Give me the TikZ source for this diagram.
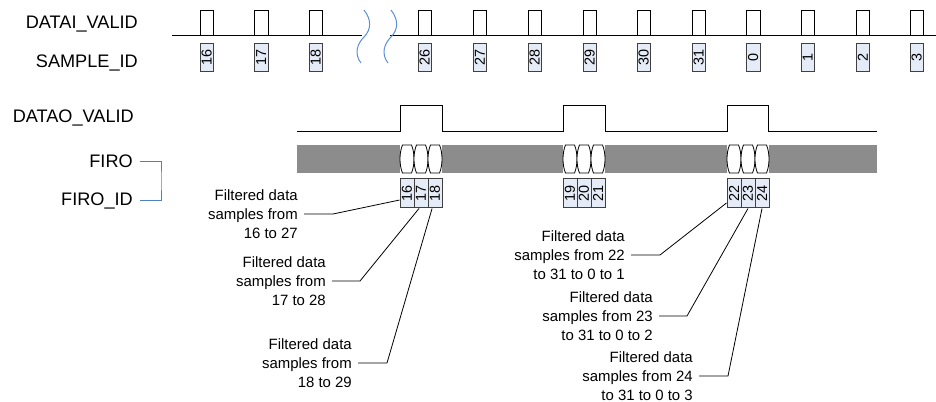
\documentclass[tikz,border=0pt]{standalone}
\usepackage{fontspec}
\setmainfont{Liberation Sans}
\usepackage{graphicx}
\definecolor{bargray}{HTML}{8C8C8C}
\definecolor{boxfill}{HTML}{E6ECF7}
\definecolor{boxline}{HTML}{404040}
\definecolor{wavecol}{HTML}{5B8FD6}
\definecolor{brkcol}{HTML}{4F81BD}
\begin{document}
\begin{tikzpicture}[x=0.75pt,y=-0.75pt,
  lbl/.style={font=\fontsize{13.6}{15}\selectfont, inner ysep=0pt, inner xsep=0pt, anchor=east},
  note/.style={font=\fontsize{11.2}{14.25}\selectfont, align=right, anchor=east, inner xsep=4.5pt, inner ysep=0pt},
  sbox/.style={draw=boxline, fill=boxfill, line width=0.75pt, minimum width=10.125pt, minimum height=21.4pt, inner sep=0pt, font=\fontsize{10.8}{10.8}\selectfont},
  idbox/.style={draw=boxline, fill=boxfill, line width=0.75pt, minimum width=10.5pt, minimum height=21.75pt, inner sep=0pt, font=\fontsize{10.8}{10.8}\selectfont},
  sig/.style={line width=0.75pt, black},
  leader/.style={line width=0.6pt, black},
  wavy/.style={draw=wavecol, line width=0.75pt},
  bracket/.style={draw=brkcol, line width=0.75pt},
  cell/.style={draw=black, fill=white, line width=0.6pt}]
\useasboundingbox (0,0) rectangle (936,402);

% labels
\node[lbl] (datai) at (138,24) {DATAI\_VALID};
\node[lbl] (sid) at (138,63) {SAMPLE\_ID};
\node[lbl] (datao) at (134,118) {DATAO\_VALID};
\node[lbl, inner xsep=5.25pt] (firo) at (140,161.5) {FIRO};
\node[lbl, inner xsep=5.25pt] (firoid) at (140,201) {FIRO\_ID};
\coordinate (bk) at (161,181);
\draw[bracket] (firo.east) -| (bk) |- (firoid.east);

% DATAI_VALID waveform
\draw[sig] (172,36) -- (362,36);
\draw[sig] (390,36) -- (936,36);
\foreach \x in {200,254.5,309,418,473,528,583,637,692,746.5,801,856,910}
  \draw[sig] (\x,36) -- (\x,11) -- ++(13.5,0) -- ++(0,25);

% break marks
\draw[wavy] (364,10) .. controls (372,20) and (371,30) .. (364,37) .. controls (357,44) and (354,54) .. (361,63);
\draw[wavy] (391,10) .. controls (399,20) and (398,30) .. (391,37) .. controls (384,44) and (381,54) .. (388,63);

% SAMPLE_ID boxes
\foreach \x/\t in {200/16,254.5/17,309/18,418/26,473/27,528/28,583/29,637/30,692/31,746.5/0,801/1,856/2,910/3}
  \node[sbox] (s\t) at (\x+6.75,57.5) {\rotatebox{90}{\t}};

% DATAO_VALID waveform
\draw[sig] (297,132) -- (400,132) -- (400,106) -- (442,106) -- (442,132)
  -- (563,132) -- (563,106) -- (605,106) -- (605,132)
  -- (727,132) -- (727,106) -- (768,106) -- (768,132) -- (877,132);

% FIRO bus
\fill[bargray] (297,145) rectangle (400,173);
\fill[bargray] (442,145) rectangle (563,173);
\fill[bargray] (605,145) rectangle (727,173);
\fill[bargray] (769,145) rectangle (877,173);
\foreach \g in {400,563,727}
  \foreach \k in {0,1,2} {
    \pgfmathsetmacro\a{\g+14*\k}
    \pgfmathsetmacro\b{\a+14}
    \draw[cell] (\a+2.5,145) -- (\b-2.5,145) .. controls (\b-0.8,149) and (\b,154) .. (\b,159)
      .. controls (\b,164) and (\b-0.8,169) .. (\b-2.5,173) -- (\a+2.5,173)
      .. controls (\a+0.8,169) and (\a,164) .. (\a,159)
      .. controls (\a,154) and (\a+0.8,149) .. (\a+2.5,145) -- cycle;
  }

% FIRO_ID boxes
\foreach \g/\p/\q/\r in {400/16/17/18,563/19/20/21,727/22/23/24} {
  \node[idbox] (b\p) at (\g+7,193.5) {\rotatebox{90}{\p}};
  \node[idbox] (b\q) at (\g+21,193.5) {\rotatebox{90}{\q}};
  \node[idbox] (b\r) at (\g+35,193.5) {\rotatebox{90}{\r}};
}

% notes
\node[note] (tA) at (304,214) {Filtered data\\samples from\\16 to 27};
\node[note] (tB) at (332,281) {Filtered data\\samples from\\17 to 28};
\node[note] (tC) at (358,363) {Filtered data\\samples from\\18 to 29};
\node[note] (tD) at (631,255) {Filtered data\\samples from 22\\to 31 to 0 to 1};
\node[note] (tE) at (659,316) {Filtered data\\samples from 23\\to 31 to 0 to 2};
\node[note] (tF) at (699,376) {Filtered data\\samples from 24\\to 31 to 0 to 3};

\coordinate (eA) at (333,214);
\coordinate (eB) at (360,281);
\coordinate (eC) at (387,363);
\coordinate (eD) at (660,255);
\coordinate (eE) at (687,316);
\coordinate (eF) at (728,376);

\draw[leader] (tA.east) -- (eA) -- ([yshift=-4.9pt]b16.west);
\draw[leader] (tB.east) -- (eB) -- ([xshift=-1.5pt]b17.south);
\draw[leader] (tC.east) -- (eC) -- ([xshift=-2.2pt]b18.south);
\draw[leader] (tD.east) -- (eD) -- ([yshift=-7.1pt]b22.west);
\draw[leader] (tE.east) -- (eE) -- (b23.south);
\draw[leader] (tF.east) -- (eF) -- (b24.south);
\end{tikzpicture}
\end{document}
